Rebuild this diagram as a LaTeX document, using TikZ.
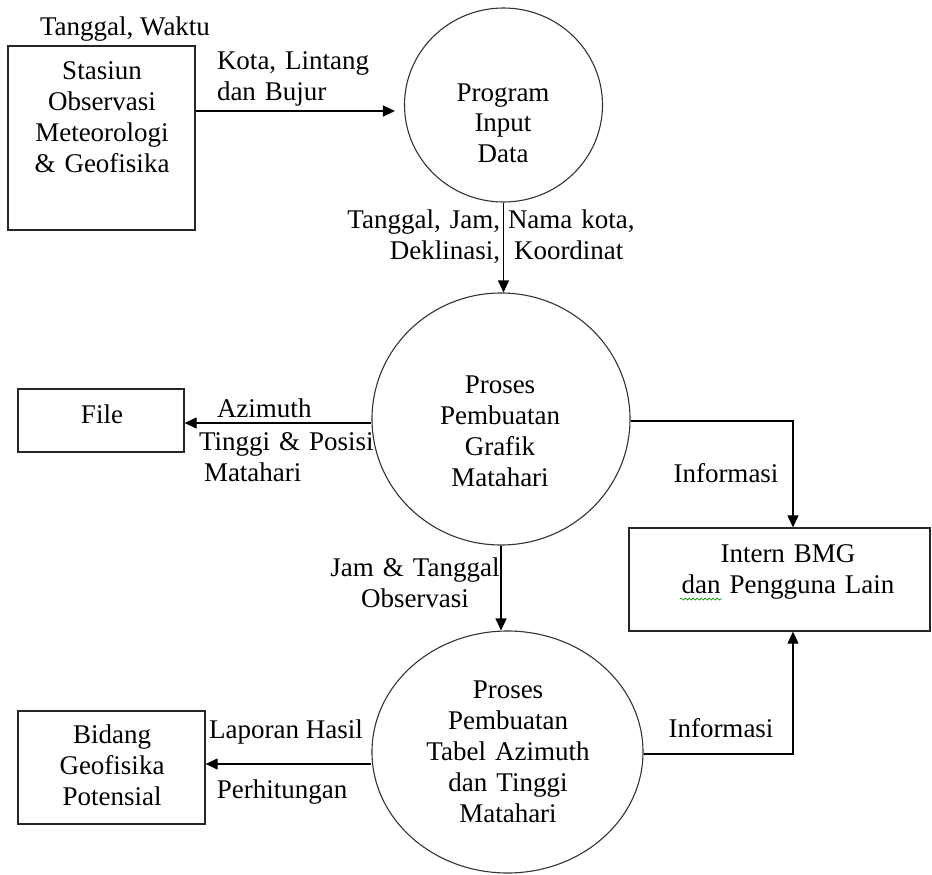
\documentclass[tikz,border=0pt]{standalone}
\usepackage{fontspec}
\setmainfont{Liberation Serif}
\usetikzlibrary{arrows.meta,shapes.geometric,decorations.pathmorphing}
\begin{document}
\begin{tikzpicture}[x=1pt,y=-1pt,
  txt/.style={font=\fontsize{27}{31}\selectfont, inner sep=0pt, outer sep=0pt, anchor=base},
  ml/.style={txt, text width=300pt, align=center},
  entity/.style={draw=black!85, line width=1.3pt, rectangle, inner sep=0pt},
  proc/.style={draw=black!80, line width=1.1pt, ellipse, inner sep=0pt},
  flow/.style={draw=black, line width=1.2pt, -{Triangle[length=12pt,width=11pt]}},
]
\useasboundingbox (0,0) rectangle (932,875);

% external entities
\node[entity, minimum width=187pt, minimum height=184pt] (stasiun) at (101.5,138) {};
\node[entity, minimum width=166pt, minimum height=63pt]  (file)    at (101,420.5) {};
\node[entity, minimum width=187pt, minimum height=113pt] (bidang)  at (111.5,767.5) {};
\node[entity, minimum width=301pt, minimum height=103pt] (intern)  at (779.5,579.5) {};

% processes
\node[proc, minimum width=198pt, minimum height=194pt] (input)  at (503.5,105) {};
\node[proc, minimum width=258pt, minimum height=252pt] (grafik) at (501,419) {};
\node[proc, minimum width=271pt, minimum height=242pt] (tabel)  at (507.5,752) {};

% texts inside the shapes
\node[ml] (tStasiun) at (102,80) {Stasiun\\Observasi\\Meteorologi\\\& Geofisika};
\node[ml] (tFile) at (102,423) {File};
\node[ml] (tBidang) at (112,743) {Bidang\\Geofisika\\Potensial};
\node[ml] (tIntern) at (788,562) {Intern BMG\\dan Pengguna Lain};
\node[ml] (tInput) at (503,101) {Program\\Input\\Data};
\node[ml] (tGrafik) at (500,393) {Proses\\Pembuatan\\Grafik\\Matahari};
\node[ml] (tTabel) at (508,698) {Proses\\Pembuatan\\Tabel Azimuth\\dan Tinggi\\Matahari};

% spelling mark under "dan"
\draw[green!55!black, line width=0.7pt, decorate,
      decoration={snake, amplitude=1pt, segment length=4pt}]
  (680,599) -- (722,599);

% data flows
\draw[flow, shorten >=9pt] ([yshift=-6pt]stasiun.east |- input.west) -- ([yshift=-6pt]input.west);
\draw[flow] (input.south) -- (input.south |- grafik.north);
\draw[flow] ([yshift=-4pt]grafik.west) -- ([yshift=-4pt]grafik.west -| file.east);
\draw[flow] ([yshift=-2pt]grafik.east) -| ([xshift=13.5pt]intern.north);
\draw[flow] (grafik.south) -- (grafik.south |- tabel.north);
\draw[flow] ([yshift=-12pt]tabel.west) -- ([yshift=-12pt]tabel.west -| bidang.east);
\draw[flow] ([yshift=-2pt]tabel.east) -| ([xshift=13.5pt]intern.south);

% flow labels
\node[txt] (lTW) at (125,36) {Tanggal, Waktu};
\node[ml, align=left, anchor=base west] (lKota) at (217,70) {Kota, Lintang\\dan Bujur};
\node[ml, align=right, anchor=base east] (lTgl) at (500,228) {Tanggal, Jam,\\Deklinasi,};
\node[ml, align=left, anchor=base west] (lNama) at (508,228) {Nama kota,\\\hspace*{6pt}Koordinat};
\node[txt, anchor=base west] (lAz) at (217,417) {Azimuth};
\node[ml, align=left, anchor=base west] (lTP) at (199,450) {Tinggi \& Posisi\\\hspace*{5pt}Matahari};
\node[txt] (lInfo1) at (726,482) {Informasi};
\node[ml] (lJam) at (415,576) {Jam \& Tanggal\\Observasi};
\node[txt] (lLap) at (286,738) {Laporan Hasil};
\node[txt] (lPer) at (282,798) {Perhitungan};
\node[txt] (lInfo2) at (721,737) {Informasi};
\end{tikzpicture}
\end{document}
